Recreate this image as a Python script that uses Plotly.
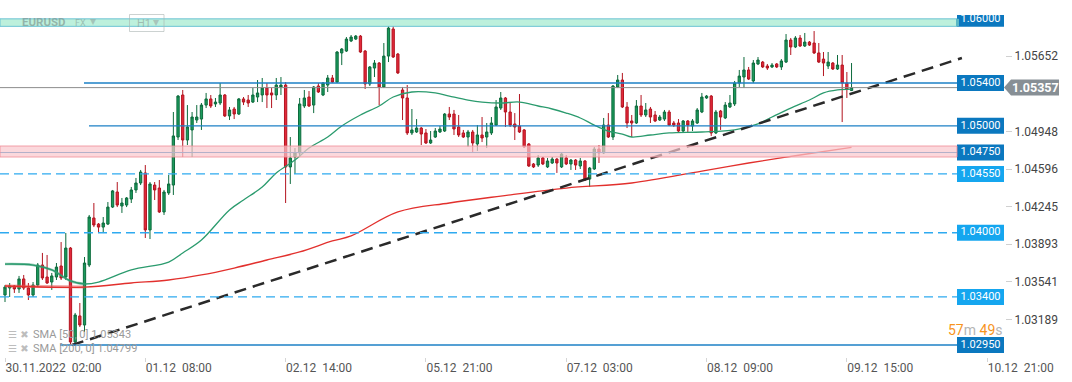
import plotly.graph_objects as go

# ---------------- data ----------------
tick_index = [0, 30, 60, 90, 120, 150, 180, 210]
tick_text = ["30.11.2022  02:00", "01.12  08:00", "02.12  14:00", "05.12  21:00",
             "07.12  03:00", "08.12  09:00", "09.12  15:00", "10.12  21:00"]

price_ticks = [1.02837, 1.03189, 1.03541, 1.03893, 1.04245, 1.04596, 1.04948, 1.05652]

opens = [1.03418, 1.03483, 1.03502, 1.03474, 1.03568, 1.03483, 1.03418, 1.03511, 1.03698, 1.03586,
         1.03539, 1.03586, 1.03689, 1.03586, 1.03857, 1.02978, 1.03222, 1.03137, 1.03698, 1.04138,
         1.04081, 1.04053, 1.04081, 1.04240, 1.04381, 1.04250, 1.04259, 1.04315, 1.04400, 1.04465,
         1.04559, 1.04026, 1.04446, 1.04418, 1.04194, 1.04372, 1.04446, 1.04895, 1.05288, 1.04867,
         1.04961, 1.05054, 1.05063, 1.05194, 1.05251, 1.05204, 1.05213, 1.05288, 1.05092, 1.05157,
         1.05110, 1.05251, 1.05241, 1.05222, 1.05269, 1.05288, 1.05353, 1.05307, 1.05288, 1.05363,
         1.05381, 1.04615, 1.04708, 1.04746, 1.05185, 1.05269, 1.05194, 1.05372, 1.05288, 1.05381,
         1.05447, 1.05409, 1.05681, 1.05699, 1.05793, 1.05811, 1.05839, 1.05699, 1.05391, 1.05540,
         1.05587, 1.05363, 1.05652, 1.05905, 1.05671, 1.05335, 1.05260, 1.04933, 1.04942, 1.04979,
         1.04933, 1.04839, 1.04895, 1.04942, 1.04951, 1.05110, 1.05110, 1.04989, 1.04933, 1.04895,
         1.04942, 1.04830, 1.04914, 1.04895, 1.04933, 1.05007, 1.05166, 1.05260, 1.05129, 1.05017,
         1.04998, 1.04961, 1.04830, 1.04643, 1.04633, 1.04699, 1.04615, 1.04652, 1.04689, 1.04615,
         1.04699, 1.04643, 1.04680, 1.04624, 1.04671, 1.04502, 1.04596, 1.04783, 1.04746, 1.05007,
         1.04895, 1.05363, 1.05428, 1.05176, 1.05045, 1.05026, 1.05185, 1.05101, 1.05157, 1.05101,
         1.05054, 1.05063, 1.05129, 1.05026, 1.05026, 1.04951, 1.05045, 1.04998, 1.05026, 1.05129,
         1.05260, 1.05278, 1.04933, 1.05138, 1.05073, 1.05176, 1.05204, 1.05400, 1.05456, 1.05522,
         1.05419, 1.05578, 1.05596, 1.05559, 1.05550, 1.05578, 1.05550, 1.05596, 1.05802, 1.05737,
         1.05821, 1.05746, 1.05783, 1.05774, 1.05681, 1.05624, 1.05559, 1.05587, 1.05531, 1.05568,
         1.05400, 1.05330]

highs = [1.03511, 1.03530, 1.03511, 1.03596, 1.03605, 1.03530, 1.03539, 1.03717, 1.03811, 1.03792,
         1.03624, 1.03717, 1.03913, 1.03998, 1.03866, 1.03250, 1.03343, 1.03773, 1.04166, 1.04278,
         1.04091, 1.04147, 1.04287, 1.04400, 1.04474, 1.04325, 1.04334, 1.04428, 1.04512, 1.04587,
         1.04633, 1.04474, 1.04474, 1.04493, 1.04400, 1.04540, 1.05129, 1.05288, 1.05335, 1.05194,
         1.05129, 1.05194, 1.05213, 1.05307, 1.05288, 1.05260, 1.05400, 1.05297, 1.05176, 1.05176,
         1.05260, 1.05269, 1.05288, 1.05353, 1.05428, 1.05447, 1.05400, 1.05353, 1.05447, 1.05456,
         1.05409, 1.04895, 1.04792, 1.05260, 1.05335, 1.05325, 1.05372, 1.05400, 1.05409, 1.05475,
         1.05475, 1.05699, 1.05727, 1.05830, 1.05849, 1.05849, 1.05849, 1.05709, 1.05559, 1.05615,
         1.05596, 1.05774, 1.05942, 1.05942, 1.05681, 1.05363, 1.05381, 1.05157, 1.05063, 1.04989,
         1.04970, 1.04951, 1.04979, 1.04998, 1.05119, 1.05176, 1.05148, 1.05101, 1.04961, 1.04961,
         1.04961, 1.05007, 1.05082, 1.05026, 1.05082, 1.05241, 1.05316, 1.05269, 1.05222, 1.05119,
         1.05297, 1.04970, 1.04839, 1.04652, 1.04727, 1.04708, 1.04699, 1.04708, 1.04699, 1.04746,
         1.04727, 1.04689, 1.04689, 1.04699, 1.04680, 1.04615, 1.04802, 1.04820, 1.05073, 1.05119,
         1.05381, 1.05475, 1.05494, 1.05222, 1.05101, 1.05241, 1.05288, 1.05213, 1.05176, 1.05138,
         1.05101, 1.05148, 1.05148, 1.05045, 1.05063, 1.05054, 1.05054, 1.05063, 1.05166, 1.05307,
         1.05288, 1.05288, 1.05148, 1.05148, 1.05222, 1.05288, 1.05419, 1.05522, 1.05643, 1.05550,
         1.05615, 1.05643, 1.05606, 1.05578, 1.05587, 1.05587, 1.05624, 1.05858, 1.05821, 1.05839,
         1.05849, 1.05868, 1.05793, 1.05886, 1.05774, 1.05690, 1.05690, 1.05596, 1.05662, 1.05662,
         1.05503, 1.05587]

lows = [1.03352, 1.03399, 1.03437, 1.03437, 1.03465, 1.03371, 1.03399, 1.03492, 1.03558, 1.03521,
        1.03465, 1.03558, 1.03558, 1.03558, 1.02950, 1.02969, 1.03118, 1.03072, 1.03679, 1.04053,
        1.03998, 1.03998, 1.04072, 1.04231, 1.04240, 1.04185, 1.04240, 1.04278, 1.04372, 1.04446,
        1.03951, 1.03941, 1.04306, 1.04185, 1.04166, 1.04353, 1.04353, 1.04867, 1.04708, 1.04820,
        1.04708, 1.05026, 1.04961, 1.05166, 1.05166, 1.05176, 1.05194, 1.05082, 1.05054, 1.05063,
        1.05101, 1.05194, 1.05176, 1.05213, 1.05222, 1.05222, 1.05166, 1.05166, 1.05241, 1.05288,
        1.04278, 1.04456, 1.04549, 1.04708, 1.05166, 1.05176, 1.05119, 1.05307, 1.05278, 1.05316,
        1.05400, 1.05400, 1.05568, 1.05690, 1.05783, 1.05802, 1.05681, 1.05344, 1.05372, 1.05456,
        1.05194, 1.05353, 1.05596, 1.05634, 1.05484, 1.05054, 1.04914, 1.04914, 1.04933, 1.04820,
        1.04830, 1.04830, 1.04886, 1.04933, 1.04942, 1.05054, 1.04914, 1.04895, 1.04886, 1.04802,
        1.04755, 1.04764, 1.04848, 1.04792, 1.04914, 1.04998, 1.05148, 1.04989, 1.04989, 1.04867,
        1.04933, 1.04792, 1.04615, 1.04605, 1.04615, 1.04633, 1.04605, 1.04643, 1.04559, 1.04605,
        1.04633, 1.04587, 1.04587, 1.04596, 1.04484, 1.04428, 1.04587, 1.04652, 1.04736, 1.04886,
        1.04867, 1.05353, 1.05166, 1.04979, 1.04895, 1.05017, 1.05082, 1.05082, 1.05026, 1.05035,
        1.05045, 1.05045, 1.04998, 1.04989, 1.04942, 1.04942, 1.04942, 1.04951, 1.05017, 1.05119,
        1.05251, 1.04905, 1.04923, 1.04961, 1.05063, 1.05166, 1.05185, 1.05363, 1.05353, 1.05428,
        1.05400, 1.05568, 1.05540, 1.05522, 1.05540, 1.05540, 1.05522, 1.05587, 1.05662, 1.05727,
        1.05737, 1.05737, 1.05746, 1.05671, 1.05587, 1.05465, 1.05531, 1.05522, 1.05522, 1.05035,
        1.05260, 1.05325]

closes = [1.03492, 1.03502, 1.03474, 1.03568, 1.03483, 1.03418, 1.03511, 1.03698, 1.03577, 1.03530,
          1.03596, 1.03679, 1.03577, 1.03857, 1.02978, 1.03231, 1.03137, 1.03717, 1.04147, 1.04072,
          1.04053, 1.04091, 1.04240, 1.04391, 1.04259, 1.04278, 1.04325, 1.04400, 1.04465, 1.04568,
          1.04026, 1.04456, 1.04400, 1.04194, 1.04381, 1.04456, 1.04905, 1.05278, 1.04867, 1.04989,
          1.05082, 1.05082, 1.05194, 1.05251, 1.05185, 1.05222, 1.05288, 1.05092, 1.05148, 1.05110,
          1.05251, 1.05222, 1.05213, 1.05288, 1.05307, 1.05353, 1.05288, 1.05288, 1.05381, 1.05381,
          1.04615, 1.04699, 1.04746, 1.05204, 1.05260, 1.05185, 1.05363, 1.05316, 1.05400, 1.05447,
          1.05409, 1.05690, 1.05718, 1.05811, 1.05830, 1.05839, 1.05690, 1.05391, 1.05550, 1.05587,
          1.05363, 1.05652, 1.05914, 1.05643, 1.05494, 1.05260, 1.04933, 1.04961, 1.04979, 1.04923,
          1.04839, 1.04867, 1.04951, 1.04970, 1.05110, 1.05082, 1.04970, 1.04914, 1.04895, 1.04942,
          1.04839, 1.04914, 1.04886, 1.04942, 1.05026, 1.05176, 1.05260, 1.05129, 1.05007, 1.04989,
          1.04942, 1.04802, 1.04624, 1.04615, 1.04699, 1.04643, 1.04671, 1.04689, 1.04652, 1.04736,
          1.04643, 1.04680, 1.04633, 1.04671, 1.04493, 1.04605, 1.04783, 1.04746, 1.05007, 1.04895,
          1.05372, 1.05428, 1.05176, 1.05026, 1.05026, 1.05185, 1.05101, 1.05148, 1.05082, 1.05045,
          1.05082, 1.05129, 1.05007, 1.05007, 1.04951, 1.05045, 1.05007, 1.05045, 1.05148, 1.05269,
          1.05278, 1.04933, 1.05129, 1.05082, 1.05194, 1.05213, 1.05400, 1.05465, 1.05522, 1.05437,
          1.05587, 1.05615, 1.05550, 1.05540, 1.05568, 1.05550, 1.05606, 1.05802, 1.05737, 1.05821,
          1.05746, 1.05783, 1.05755, 1.05681, 1.05596, 1.05587, 1.05596, 1.05531, 1.05568, 1.05400,
          1.05344, 1.05357]

sma50_index = [0, 6, 10, 14, 17, 20, 27, 35, 38, 42, 48, 51, 55, 58, 62, 65, 69, 72, 76, 80,
               83, 87, 92, 95, 99, 102, 106, 110, 114, 117, 120, 123, 126, 129, 132, 134, 138, 142,
               149, 156, 161, 164, 168, 172, 175, 178, 181]
sma50_value = [1.03707, 1.03698, 1.03652, 1.03549, 1.03521, 1.03539, 1.03652, 1.03726, 1.03811, 1.03932,
               1.04213, 1.04306, 1.04428, 1.04559, 1.04680, 1.04792, 1.04895, 1.04998, 1.05101, 1.05185,
               1.05269, 1.05316, 1.05307, 1.05278, 1.05241, 1.05222, 1.05213, 1.05222, 1.05185, 1.05157,
               1.05119, 1.05073, 1.05007, 1.04951, 1.04923, 1.04895, 1.04914, 1.04933, 1.04942, 1.04961,
               1.05017, 1.05082, 1.05166, 1.05241, 1.05307, 1.05335, 1.05343]

sma200_index = [0, 17, 27, 35, 42, 49, 56, 63, 70, 74, 84, 95, 106, 120, 134, 149, 159, 170, 181]
sma200_value = [1.03502, 1.03492, 1.03530, 1.03558, 1.03605, 1.03670, 1.03745, 1.03820, 1.03923, 1.03970,
                1.04194, 1.04278, 1.04343, 1.04418, 1.04465, 1.04577, 1.04652, 1.04727, 1.04799]

trend_index = [14.3, 204.6]
trend_value = [1.02950, 1.05634]

level_values = [1.06000, 1.05400, 1.05000, 1.04750, 1.04550, 1.04000, 1.03400, 1.02950]
level_kinds = ["zone", "solid", "solid", "zone", "dashed", "dashed", "dashed", "solid"]
zone_bounds = {1.06000: (1.05930, 1.06000), 1.04750: (1.04708, 1.04811)}

current_price = 1.05357
sma50_last = 1.05343
sma200_last = 1.04799

# ---------------- geometry / style ----------------
W, H = 1072, 382
PLOT_TOP, PLOT_BOTTOM = 15, 357
CANDLE0_PX, PX_PER_CANDLE = 5.0, 4.677
Y_MIN, Y_MAX = 1.02838, 1.06036
PRICE_PER_PX = (Y_MAX - Y_MIN) / (PLOT_BOTTOM - PLOT_TOP)


def idx_at(px):
    return (px - CANDLE0_PX) / PX_PER_CANDLE


def paper_x(px):
    return px / W


def paper_y(py):
    return (PLOT_BOTTOM - py) / (PLOT_BOTTOM - PLOT_TOP)


DARK_BLUE = "#0b78bf"
LIGHT_BLUE = "#15a6ef"
FONT = "Roboto"

level_start_px = [0, 84, 89, 0, 0, 0, 0, 60]
LINE_END = idx_at(957)
BOX_X0, BOX_X1 = idx_at(957), idx_at(1004)
BOX_HALF = 8 * PRICE_PER_PX

x = list(range(len(opens)))

fig = go.Figure()

fig.add_trace(go.Candlestick(
    x=x, open=opens, high=highs, low=lows, close=closes,
    increasing=dict(fillcolor="#1a9b5c", line=dict(color="#0d6b3d", width=1)),
    decreasing=dict(fillcolor="#e3283b", line=dict(color="#b3141f", width=1)),
    whiskerwidth=0, hoverinfo="skip", showlegend=False,
))

# SMA lines (faint thicker start like the reference)
k50 = sum(1 for i in sma50_index if i <= 17)
k200 = sum(1 for i in sma200_index if i <= 17)
fig.add_trace(go.Scatter(x=sma200_index[:k200], y=sma200_value[:k200], mode="lines",
                         line=dict(color="rgba(232,90,90,0.55)", width=3, shape="spline"),
                         hoverinfo="skip"))
fig.add_trace(go.Scatter(x=sma50_index[:k50], y=sma50_value[:k50], mode="lines",
                         line=dict(color="rgba(60,160,120,0.55)", width=2.5, shape="spline"),
                         hoverinfo="skip"))
fig.add_trace(go.Scatter(x=sma200_index, y=sma200_value, mode="lines",
                         line=dict(color="#e2302d", width=1.3, shape="spline"), hoverinfo="skip"))
fig.add_trace(go.Scatter(x=sma50_index, y=sma50_value, mode="lines",
                         line=dict(color="#2b9b6e", width=1.3, shape="spline"), hoverinfo="skip"))

# trendline
fig.add_trace(go.Scatter(x=trend_index, y=trend_value, mode="lines",
                         line=dict(color="#2a2a2a", width=2.5, dash="12px,7px"), hoverinfo="skip"))

shapes = []
# current price line
shapes.append(dict(type="line", xref="x", yref="y", x0=idx_at(0), x1=LINE_END,
                   y0=current_price, y1=current_price, line=dict(color="#8d8d8d", width=1), layer="above"))

box_colors = []
for v, kind, spx in zip(level_values, level_kinds, level_start_px):
    x0 = idx_at(spx)
    if kind == "zone":
        lo, hi = zone_bounds[v]
        if v == 1.06000:
            shapes.append(dict(type="rect", xref="x", yref="y", x0=x0, x1=LINE_END, y0=lo, y1=hi,
                               fillcolor="#bdf0dc", line=dict(color="#6cc3d3", width=1), layer="above"))
            shapes.append(dict(type="line", xref="x", yref="y", x0=idx_at(957.5), x1=idx_at(957.5),
                               y0=lo, y1=hi, line=dict(color="#5ab7c4", width=3), layer="above"))
        else:
            shapes.append(dict(type="line", xref="x", yref="y", x0=x0, x1=LINE_END, y0=v, y1=v,
                               line=dict(color=DARK_BLUE, width=1), layer="above"))
            shapes.append(dict(type="rect", xref="x", yref="y", x0=x0, x1=LINE_END, y0=lo, y1=hi,
                               fillcolor="rgba(250,200,205,0.7)",
                               line=dict(color="rgba(240,140,150,0.8)", width=1), layer="above"))
        box_colors.append(DARK_BLUE)
    elif kind == "solid":
        shapes.append(dict(type="line", xref="x", yref="y", x0=x0, x1=LINE_END, y0=v, y1=v,
                           line=dict(color="#1c80c6", width=1.3), layer="above"))
        box_colors.append(DARK_BLUE)
    else:
        shapes.append(dict(type="line", xref="x", yref="y", x0=x0, x1=LINE_END, y0=v, y1=v,
                           line=dict(color="#2eaaf0", width=1.3, dash="9px,5px"), layer="above"))
        box_colors.append(LIGHT_BLUE)

for v, c in zip(level_values, box_colors):
    shapes.append(dict(type="rect", xref="x", yref="y", x0=BOX_X0, x1=BOX_X1,
                       y0=v - BOX_HALF, y1=v + BOX_HALF, fillcolor=c, line=dict(width=0), layer="below"))

# current price tag (arrow box)
tx, ax, bx = idx_at(1004), idx_at(1011), idx_at(1059)
cp_hi, cp_lo = current_price + BOX_HALF, current_price - BOX_HALF
shapes.append(dict(type="path", xref="x", yref="y",
                   path=f"M {tx},{current_price} L {ax},{cp_hi} L {bx},{cp_hi} L {bx},{cp_lo} L {ax},{cp_lo} Z",
                   fillcolor="#878f95", line=dict(width=0), layer="above"))

# H1 box in header
shapes.append(dict(type="rect", xref="paper", yref="paper", x0=paper_x(129.5), x1=paper_x(164),
                   y0=paper_y(31.5), y1=paper_y(14.5), line=dict(color="rgba(170,180,178,0.6)", width=1),
                   fillcolor="rgba(0,0,0,0)", layer="above"))

# level label texts
fig.add_trace(go.Scatter(x=[idx_at(980.5)] * len(level_values), y=level_values, mode="text",
                         text=[f"{v:.5f}" for v in level_values],
                         textfont=dict(color="white", size=11, family=FONT),
                         cliponaxis=True, hoverinfo="skip"))

annotations = [
    dict(xref="x", yref="y", x=idx_at(1035), y=current_price, text=f"<b>{current_price:.5f}</b>",
         showarrow=False, font=dict(color="white", size=12.5, family=FONT)),
    dict(xref="paper", yref="paper", x=paper_x(20), y=paper_y(22), xanchor="left", yanchor="middle",
         text="<b>EURUSD</b>", showarrow=False, font=dict(color="rgba(120,140,135,0.6)", size=11.5, family=FONT)),
    dict(xref="paper", yref="paper", x=paper_x(73), y=paper_y(23), xanchor="left", yanchor="middle",
         text="FX", showarrow=False, font=dict(color="rgba(120,140,135,0.5)", size=9, family=FONT)),
    dict(xref="paper", yref="paper", x=paper_x(88), y=paper_y(21), xanchor="left", yanchor="middle",
         text="▾", showarrow=False, font=dict(color="rgba(140,155,150,0.5)", size=12, family="DejaVu Sans")),
    dict(xref="paper", yref="paper", x=paper_x(135), y=paper_y(23), xanchor="left", yanchor="middle",
         text="H1", showarrow=False, font=dict(color="rgba(140,155,150,0.6)", size=11, family=FONT)),
    dict(xref="paper", yref="paper", x=paper_x(151), y=paper_y(22), xanchor="left", yanchor="middle",
         text="▾", showarrow=False, font=dict(color="rgba(150,160,158,0.55)", size=12, family="DejaVu Sans")),
    dict(xref="paper", yref="paper", x=paper_x(6), y=paper_y(334), xanchor="left", yanchor="middle",
         text="☰ ✖", showarrow=False, font=dict(color="#bdbdbd", size=10, family="DejaVu Sans")),
    dict(xref="paper", yref="paper", x=paper_x(31), y=paper_y(334), xanchor="left", yanchor="middle",
         text=f"SMA [50, 0] {sma50_last:.5f}", showarrow=False,
         font=dict(color="#9a9a9a", size=11, family=FONT)),
    dict(xref="paper", yref="paper", x=paper_x(6), y=paper_y(348), xanchor="left", yanchor="middle",
         text="☰ ✖", showarrow=False, font=dict(color="#bdbdbd", size=10, family="DejaVu Sans")),
    dict(xref="paper", yref="paper", x=paper_x(31), y=paper_y(348), xanchor="left", yanchor="middle",
         text=f"SMA [200, 0] {sma200_last:.5f}", showarrow=False,
         font=dict(color="#9a9a9a", size=11, family=FONT)),
    dict(xref="paper", yref="paper", x=paper_x(946), y=paper_y(330), xanchor="left", yanchor="middle",
         text="<span style='color:#f7941d'>57</span><span style='color:#b5b5b5'>m</span> "
              "<span style='color:#f7941d'>49</span><span style='color:#b5b5b5'>s</span>",
         showarrow=False, font=dict(size=14, family=FONT)),
]

fig.update_layout(
    width=W, height=H,
    margin=dict(l=0, r=0, t=PLOT_TOP, b=H - PLOT_BOTTOM),
    plot_bgcolor="white", paper_bgcolor="white",
    showlegend=False,
    shapes=shapes, annotations=annotations,
    xaxis=dict(range=[idx_at(0), idx_at(W)], tickvals=tick_index,
               ticktext=[t.replace("  ", "\u00a0\u00a0") for t in tick_text],
               ticks="outside", ticklen=4, tickcolor="#d5d5d5", ticklabelposition="outside right",
               showgrid=False, zeroline=False, showline=False,
               tickfont=dict(family=FONT, size=12, color="#555555"),
               rangeslider=dict(visible=False), fixedrange=True),
    yaxis=dict(range=[Y_MIN, Y_MAX], side="right", anchor="free", position=paper_x(1005),
               tickvals=price_ticks, ticktext=[f"{v:.5f}" for v in price_ticks],
               ticks="outside", ticklen=6, tickcolor="#d0d0d0",
               showgrid=False, zeroline=False, showline=False,
               tickfont=dict(family=FONT, size=12, color="#444444"), fixedrange=True),
)

fig.write_html("out.html", config={"displayModeBar": False},
               post_script="document.body.style.margin='0px';document.body.style.padding='0px';")
